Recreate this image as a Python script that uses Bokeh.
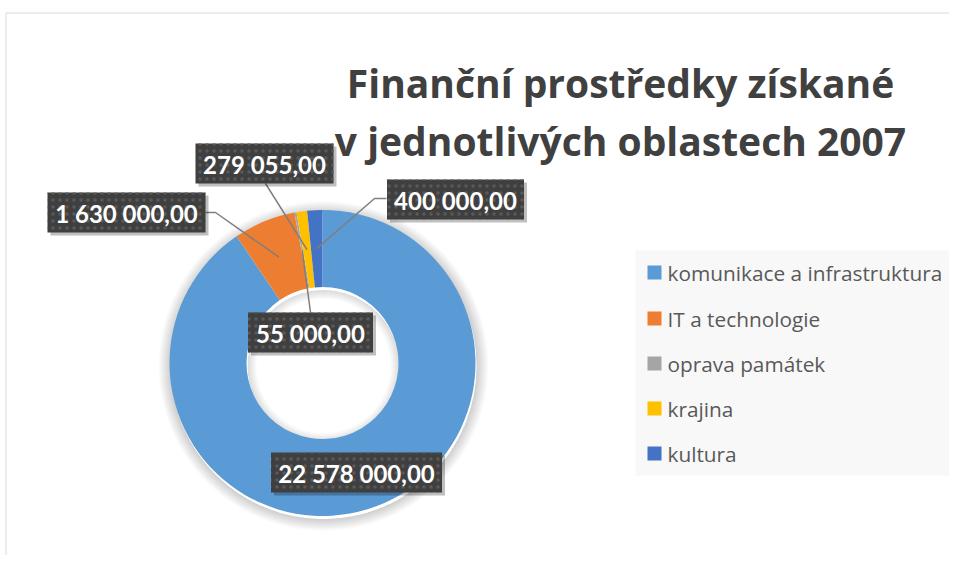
import numpy as np
from bokeh.plotting import figure
from bokeh.models import Range1d, ColumnDataSource
from bokeh.core.properties import value
from bokeh.embed import file_html
from bokeh.resources import INLINE

# ---- data ----
categories = ["komunikace a infrastruktura", "IT a technologie", "oprava památek", "krajina", "kultura"]
amounts = [22578000, 1630000, 55000, 279055, 400000]
colors = ["#5B9BD5", "#ED7D31", "#A5A5A5", "#FFC000", "#4472C4"]
title_lines = ["Finanční prostředky získané", "v jednotlivých oblastech 2007"]

def fmt(v):
    return f"{v:,.2f}".replace(",", " ").replace(".", ",")

label_texts = [fmt(v) for v in amounts]

# ---- layout (screen pixel coordinates) ----
W, H = 949, 555
def Y(sy):
    return H - sy

cx, cy = 322, 362.5
R_in, R_out = 76, 153

label_centers = [(356, 472), (126, 212), (310, 332), (264, 163), (455, 199)]
box_widths = [171, 158, 125, 138, 137]
box_h = 40
leader_starts = [None, [(205, 212), (215, 212)], [(310, 312)], [(265, 183)], [(386, 198), (374, 198)]]

p = figure(width=W, height=H, output_backend="svg", toolbar_location=None,
           x_range=Range1d(0, W), y_range=Range1d(0, H), min_border=0,
           x_axis_location=None, y_axis_location=None)
p.grid.visible = False
p.outline_line_color = None
p.background_fill_color = "white"
p.border_fill_color = "white"

# chart border
p.quad(left=[5.5], right=[990], top=[Y(12.5)], bottom=[Y(600)], fill_color=None,
       line_color="#D9D9D9", line_width=1)

# legend background
p.quad(left=[635], right=[953], top=[Y(250)], bottom=[Y(475)], fill_color="#F8F8F8",
       line_color=None)

# title
for i, t in enumerate(title_lines):
    p.text(x=[620], y=[Y([82, 140][i])], text=[t], text_align="center",
           text_baseline="alphabetic", text_font=value("Open Sans"), text_font_size="39px",
           text_font_style="bold", text_color="#404040")

# donut shadow
for k in range(1, 13):
    p.annulus(x=[cx + 1], y=[Y(cy) - 3], inner_radius=R_out, outer_radius=R_out + k,
              fill_color="black", fill_alpha=0.016, line_color=None)
for k in range(1, 10):
    p.annulus(x=[cx + 1], y=[Y(cy) - 3], inner_radius=R_in - k, outer_radius=R_in,
              fill_color="black", fill_alpha=0.014, line_color=None)

# donut slices
vals = np.array(amounts, dtype=float)
frac = vals / vals.sum()
cum_end = np.cumsum(frac)
cum_start = cum_end - frac
start_angles = np.pi / 2 - cum_end * 2 * np.pi
end_angles = np.pi / 2 - cum_start * 2 * np.pi
src = ColumnDataSource(dict(start=start_angles, end=end_angles, color=colors, cat=categories))
p.annular_wedge(x=cx, y=Y(cy), inner_radius=R_in, outer_radius=R_out,
                start_angle="start", end_angle="end", fill_color="color",
                line_color=None, source=src)

# leader lines
mid = (cum_start + cum_end) / 2
r_mid = (R_in + R_out) / 2
for i, pts in enumerate(leader_starts):
    if pts is None:
        continue
    ang = mid[i] * 2 * np.pi
    ex = cx + r_mid * np.sin(ang)
    ey = cy - r_mid * np.cos(ang)
    xs = [q[0] for q in pts] + [ex]
    ys = [Y(q[1]) for q in pts] + [Y(ey)]
    p.line(xs, ys, line_color="#7F7F7F", line_width=1.5)

# label boxes
lx = [c[0] for c in label_centers]
ly = [Y(c[1]) for c in label_centers]
p.rect(x=[v + 3 for v in lx], y=[v - 3 for v in ly], width=box_widths, height=box_h,
       fill_color="black", fill_alpha=0.25, line_color=None)
p.rect(x=lx, y=ly, width=box_widths, height=box_h, fill_color="#3F3F3F",
       line_color=None, hatch_pattern="dot", hatch_color="#595959", hatch_scale=7,
       hatch_weight=1.2)
p.text(x=lx, y=[v - 1 for v in ly], text=label_texts, text_align="center",
       text_baseline="middle", text_font=value("Lato"), text_font_size="24px",
       text_font_style="bold", text_color="white")

# legend
leg_y = [272, 318, 363, 408, 453]
p.rect(x=[654] * 5, y=[Y(v) for v in leg_y], width=14, height=14, fill_color=colors,
       line_color=None)
p.text(x=[667] * 5, y=[Y(v) for v in leg_y], text=categories, text_align="left",
       text_baseline="middle", text_font=value("Open Sans"), text_font_size="20.8px",
       text_color="#595959")

open("out.html", "w").write(file_html(p, INLINE))
